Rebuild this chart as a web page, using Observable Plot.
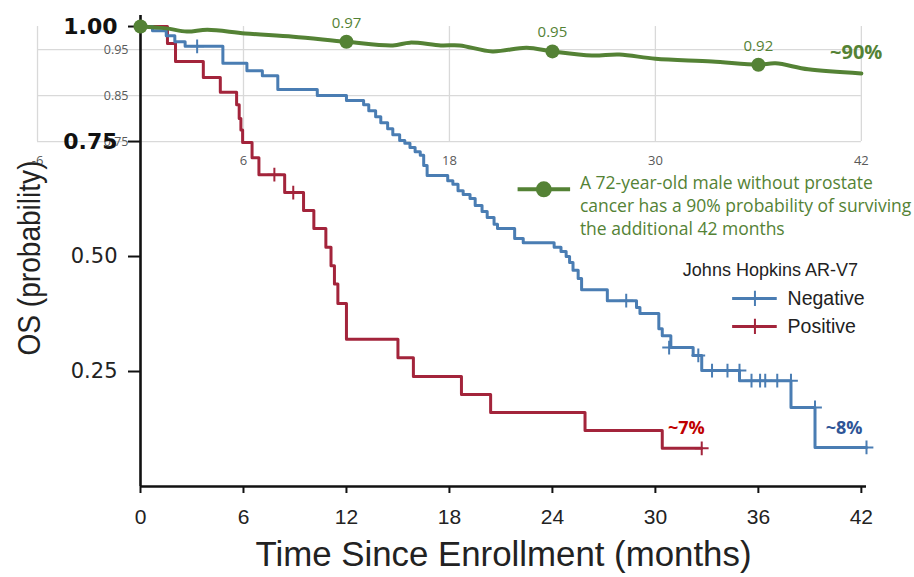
<!DOCTYPE html>
<html><head><meta charset="utf-8">
<script src="https://cdn.jsdelivr.net/npm/d3@7"></script>
<script src="https://cdn.jsdelivr.net/npm/@observablehq/plot@0.6"></script>
<style>body{margin:0;background:#fff;} #chart svg{display:block}</style>
</head><body><div id="chart"></div>
<script>
// ---- tick labels ----
const xTicks = [0, 6, 12, 18, 24, 30, 36, 42];
const yTicksBold = [1.0, 0.75];
const yTicksPlain = [0.5, 0.25];
const insetXTicks = [-6, 6, 18, 30, 42];
const insetYTicks = [0.95, 0.85, 0.75];

// ---- Johns Hopkins AR-V7 Negative (Kaplan-Meier steps) ----
const negTime = [0, 0.7, 1.5, 2.0, 2.6, 4.8, 6.2, 7.1, 8.0, 10.3, 12.0, 13.0, 13.3, 13.7, 14.0, 14.4, 14.7, 15.1, 15.4, 15.7, 16.0, 16.3, 16.5, 16.7, 17.9, 18.2, 18.5, 18.8, 19.2, 19.5, 19.9, 20.2, 20.6, 20.8, 21.8, 22.3, 24.1, 24.5, 24.8, 25.0, 25.2, 25.5, 25.7, 27.2, 28.9, 29.1, 30.2, 30.4, 30.9, 32.2, 32.7, 34.9, 37.9, 39.3, 42.3];
const negSurv = [1.0, 0.991, 0.98, 0.967, 0.957, 0.92, 0.904, 0.893, 0.863, 0.85, 0.839, 0.83, 0.817, 0.804, 0.791, 0.778, 0.765, 0.752, 0.746, 0.737, 0.728, 0.72, 0.698, 0.676, 0.665, 0.657, 0.643, 0.635, 0.626, 0.611, 0.598, 0.585, 0.57, 0.561, 0.539, 0.53, 0.52, 0.511, 0.5, 0.487, 0.47, 0.452, 0.428, 0.404, 0.389, 0.376, 0.343, 0.328, 0.302, 0.285, 0.252, 0.23, 0.172, 0.085, 0.085];
const negCensorTime = [3.3, 28.3, 30.8, 32.5, 33.3, 34.2, 34.9, 35.6, 36.1, 36.4, 37.1, 37.9, 39.3, 42.3];
const negCensorSurv = [0.957, 0.404, 0.302, 0.285, 0.252, 0.252, 0.252, 0.23, 0.23, 0.23, 0.23, 0.23, 0.172, 0.085];

// ---- Johns Hopkins AR-V7 Positive ----
const posTime = [0, 1.57, 2.04, 3.66, 4.65, 5.6, 5.75, 5.85, 5.95, 6.5, 6.9, 8.4, 9.5, 10.1, 10.8, 11.1, 11.3, 11.5, 12.0, 15.0, 15.9, 18.7, 20.4, 25.9, 30.4, 32.7];
const posSurv = [1.0, 0.963, 0.924, 0.889, 0.857, 0.83, 0.8, 0.775, 0.748, 0.715, 0.678, 0.639, 0.6, 0.561, 0.52, 0.48, 0.44, 0.398, 0.32, 0.28, 0.239, 0.2, 0.161, 0.122, 0.083, 0.083];
const posCensorTime = [7.8, 8.9, 32.7];
const posCensorSurv = [0.678, 0.639, 0.083];

// ---- 72-year-old male without prostate cancer ----
const greenTime = [0, 1.5, 2.7, 3.9, 6.1, 8.9, 12.0, 14.7, 15.7, 17.5, 18.6, 20.5, 22.5, 24.0, 26.3, 27.9, 30.0, 33.3, 36.0, 37.0, 38.9, 42.0];
const greenSurv = [1.0, 0.996, 0.989, 0.993, 0.985, 0.978, 0.967, 0.959, 0.965, 0.959, 0.959, 0.946, 0.954, 0.946, 0.937, 0.939, 0.930, 0.924, 0.917, 0.920, 0.907, 0.898];
const greenDotTime = [0, 12, 24, 36];
const greenDotSurv = [1.0, 0.967, 0.946, 0.917];
const greenDotLabel = ["", "0.97", "0.95", "0.92"];

const BLUE = "#4a7db3", RED = "#a3243b", GREEN = "#548235";
const neg = negTime.map((t, i) => ({t, s: negSurv[i]}));
const pos = posTime.map((t, i) => ({t, s: posSurv[i]}));
const negC = negCensorTime.map((t, i) => ({t, s: negCensorSurv[i]}));
const posC = posCensorTime.map((t, i) => ({t, s: posCensorSurv[i]}));
const green = greenTime.map((t, i) => ({t, s: greenSurv[i]}));
const gDots = greenDotTime.map((t, i) => ({t, s: greenDotSurv[i], label: greenDotLabel[i]}));

const calib = "'Open Sans', 'Noto Sans', sans-serif";

const chart = Plot.plot({
  width: 914, height: 577,
  marginTop: 15, marginBottom: 91, marginLeft: 140, marginRight: 48,
  x: {domain: [0, 42.3], axis: null},
  y: {domain: [0, 1.024], axis: null},
  style: {fontFamily: "'Liberation Sans', Arial, sans-serif", background: "#fff", color: "#111"},
  marks: [
    // inset grid
    Plot.ruleY(insetYTicks, {y: d => d, x1: insetXTicks[0], x2: insetXTicks[insetXTicks.length - 1], stroke: "#d9d9d9", strokeWidth: 1.3}),
    Plot.ruleX(insetXTicks, {x: d => d, y1: insetYTicks[insetYTicks.length - 1], y2: 1.0, stroke: "#d9d9d9", strokeWidth: 1.3}),
    Plot.text(insetYTicks, {x: 0, y: d => d, text: d => d.toFixed(2), textAnchor: "end", dx: -12, fill: "#595959", fontSize: 12.5, fontFamily: calib}),
    Plot.text(insetXTicks, {x: d => d, y: insetYTicks[insetYTicks.length - 1], text: d => String(d), dy: 19, fill: "#595959", fontSize: 13, fontFamily: calib}),

    // main axes
    Plot.ruleX([0], {stroke: "#111", strokeWidth: 2.6}),
    Plot.ruleY([0], {stroke: "#111", strokeWidth: 2.6}),
    Plot.axisX({ticks: xTicks, tickSize: 7, tickPadding: 16, fontSize: 21, label: null, strokeWidth: 2, fill: "#222"}),
    Plot.axisY({ticks: yTicksBold, tickFormat: d3.format(".2f"), tickSize: 12, tickPadding: 11, fontSize: 22, fontWeight: "bold", fontFamily: "'DejaVu Sans', sans-serif", label: null, strokeWidth: 2, fill: "#111"}),
    Plot.axisY({ticks: yTicksPlain, tickFormat: d3.format(".2f"), tickSize: 12, tickPadding: 11, fontSize: 21, fontFamily: "'DejaVu Sans', sans-serif", label: null, strokeWidth: 2, fill: "#222"}),
    Plot.text(["Time Since Enrollment (months)"], {frameAnchor: "bottom", dy: 68, fontSize: 35, lineAnchor: "middle", fill: "#222"}),
    Plot.text(["OS (probability)"], {frameAnchor: "left", textAnchor: "middle", dx: -110, dy: 7, rotate: -90, fontSize: 31, lineAnchor: "middle", fill: "#222"}),

    // KM curves
    Plot.line(pos, {x: "t", y: "s", curve: "step-after", stroke: RED, strokeWidth: 3}),
    Plot.line(neg, {x: "t", y: "s", curve: "step-after", stroke: BLUE, strokeWidth: 3}),
    Plot.dot(posC, {x: "t", y: "s", symbol: "plus", r: 4.5, stroke: RED, strokeWidth: 2}),
    Plot.dot(negC, {x: "t", y: "s", symbol: "plus", r: 4.5, stroke: BLUE, strokeWidth: 2}),

    // green reference curve
    Plot.line(green, {x: "t", y: "s", curve: "catmull-rom", stroke: GREEN, strokeWidth: 4}),
    Plot.dot(gDots, {x: "t", y: "s", r: 7, fill: GREEN}),
    Plot.text(gDots, {x: "t", y: "s", text: "label", dy: -19, fill: GREEN, fontSize: 15, fontFamily: calib}),
    Plot.text(["~90%"], {x: 41.7, y: 0.943, fill: GREEN, fontSize: 20, fontWeight: "bold", fontFamily: calib}),

    // green legend
    Plot.ruleY([0.646], {x1: 22.0, x2: 25.06, stroke: GREEN, strokeWidth: 4}),
    Plot.dot([23.5], {x: d => d, y: 0.646, r: 8, fill: GREEN}),
    Plot.text(["A 72-year-old male without prostate\ncancer has a 90% probability of surviving\nthe additional 42 months"], {x: 25.6, y: 0.613, textAnchor: "start", lineAnchor: "middle", lineHeight: 1.32, fill: GREEN, fontSize: 17.5, fontFamily: calib}),

    // KM legend
    Plot.text(["Johns Hopkins AR-V7"], {x: 31.6, y: 0.47, textAnchor: "start", fontSize: 18, fill: "#222"}),
    Plot.ruleY([0.409], {x1: 34.5, x2: 37.1, stroke: BLUE, strokeWidth: 3}),
    Plot.dot([35.8], {x: d => d, y: 0.409, symbol: "plus", r: 5, stroke: BLUE, strokeWidth: 2}),
    Plot.text(["Negative"], {x: 37.7, y: 0.409, textAnchor: "start", fontSize: 19.5, fill: "#222"}),
    Plot.ruleY([0.348], {x1: 34.5, x2: 37.1, stroke: RED, strokeWidth: 3}),
    Plot.dot([35.8], {x: d => d, y: 0.348, symbol: "plus", r: 5, stroke: RED, strokeWidth: 2}),
    Plot.text(["Positive"], {x: 37.7, y: 0.348, textAnchor: "start", fontSize: 19.5, fill: "#222"}),

    // end annotations
    Plot.text(["~7%"], {x: 31.8, y: 0.126, fill: "#c00000", fontSize: 18, fontWeight: "bold", fontFamily: calib}),
    Plot.text(["~8%"], {x: 41.0, y: 0.126, fill: "#2f5597", fontSize: 18, fontWeight: "bold", fontFamily: calib})
  ]
});

chart.querySelectorAll("text").forEach(t => {
  if (t.textContent === "Time Since Enrollment (months)") { t.setAttribute("textLength", 496); t.setAttribute("lengthAdjust", "spacingAndGlyphs"); }
  if (t.textContent === "OS (probability)") { t.setAttribute("textLength", 195); t.setAttribute("lengthAdjust", "spacingAndGlyphs"); }
});
document.getElementById("chart").appendChild(chart);
</script>
</body></html>
